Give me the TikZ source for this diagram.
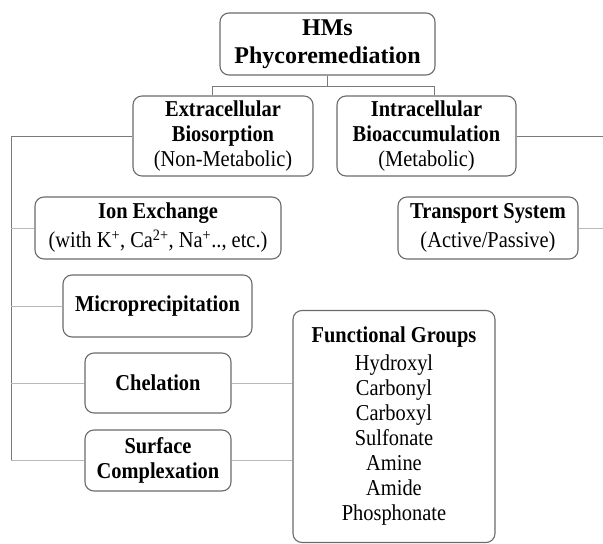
\documentclass[tikz,border=0pt]{standalone}
\usepackage{fontspec}
\setmainfont{Liberation Serif}[FakeStretch=0.9]
\newfontfamily\headserif{Liberation Serif}
\usepackage{tikz}
\definecolor{boxline}{HTML}{6B6B6B}
\definecolor{treeline}{HTML}{7A7A7A}
\definecolor{twigline}{HTML}{B8B8B8}
\newcommand{\boxfont}{\fontsize{22.7}{25}\selectfont}
\newcommand{\topfont}{\headserif\fontsize{24}{28}\selectfont\bfseries}
\tikzset{
    hmbox/.style={draw=boxline, line width=1.1pt, rounded corners=9pt, fill=white,
        align=center, inner sep=0pt, font=\boxfont},
    tree/.style={draw=treeline, line width=1pt},
    twig/.style={draw=twigline, line width=1pt},
}

\begin{document}
\begin{tikzpicture}[x=1pt,y=-1pt]
\useasboundingbox (0,0) rectangle (603,544);
\coordinate (lft) at (11,136);
\coordinate (rgt) at (603,136);
\coordinate (barL) at (212,86);
\coordinate (barR) at (434,86);

\node[hmbox, font=\topfont, minimum width=215pt, minimum height=62pt] (hms) at (327.5,44) {HMs\\Phycoremediation};
\node[hmbox, minimum width=180pt, minimum height=80pt] (ext) at (223,136) {\textbf{Extracellular}\\\textbf{Biosorption}\\(Non-Metabolic)};
\node[hmbox, minimum width=179pt, minimum height=80pt] (intra) at (426.5,136) {\textbf{Intracellular}\\\textbf{Bioaccumulation}\\(Metabolic)};
\node[hmbox, minimum width=246pt, minimum height=62pt] (ion) at (158,228) {\textbf{Ion Exchange}\\[4pt](with K\textsuperscript{+}, Ca\textsuperscript{2+}, Na\textsuperscript{+}.., etc.)};
\node[hmbox, minimum width=180pt, minimum height=62pt] (trans) at (488,228) {\textbf{Transport System}\\[4pt](Active/Passive)};
\node[hmbox, minimum width=189pt, minimum height=62pt] (micro) at (157.5,306) {\textbf{Microprecipitation}};
\node[hmbox, minimum width=146pt, minimum height=60pt] (chel) at (158,383) {\textbf{Chelation}};
\node[hmbox, minimum width=146pt, minimum height=61pt] (surf) at (158,460.5) {\textbf{Surface}\\\textbf{Complexation}};
\node[hmbox, minimum width=202pt, minimum height=232pt] (func) at (394,426.5) {\textbf{Functional Groups}\\[3pt]Hydroxyl\\Carbonyl\\Carboxyl\\Sulfonate\\Amine\\Amide\\Phosphonate};

\draw[tree] (hms.south) -- (hms.south |- barL);
\draw[tree] (barL |- ext.north) |- (barR) -- (barR |- intra.north);
\draw[tree] (ext.west) -- (lft) -- (lft |- surf.west);
\draw[tree] (intra.east) -- (rgt);
\foreach \n in {ion,micro,chel,surf}
    \draw[twig] (\n.west) -- (\n.west -| lft);
\draw[twig] (trans.east) -- (trans.east -| rgt);
\draw[twig] (chel.east) -- (chel.east -| func.west);
\draw[twig] (surf.east) -- (surf.east -| func.west);
\end{tikzpicture}
\end{document}
